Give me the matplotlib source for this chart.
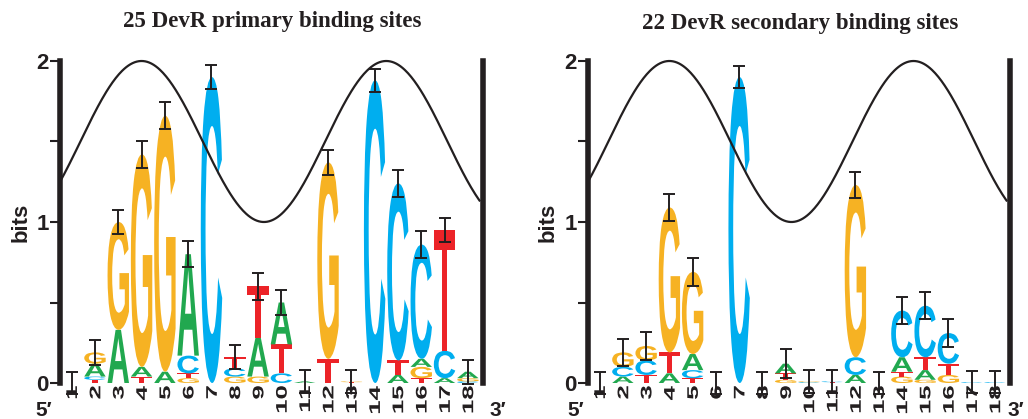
import numpy as np
import matplotlib
matplotlib.use("Agg")
import matplotlib.pyplot as plt
from matplotlib.textpath import TextPath
from matplotlib.patches import PathPatch
from matplotlib.font_manager import FontProperties
from matplotlib.transforms import Affine2D

# ---- data (bits, stacked bottom -> top) ----
positions = list(range(1, 19))

primary_title = "25 DevR primary binding sites"
primary_stacks = [
    [],
    [("T", .02), ("C", .02), ("A", .08), ("G", .07)],
    [("A", .33), ("G", .67)],
    [("T", .04), ("A", .06), ("G", 1.32)],
    [("A", .07), ("G", 1.59)],
    [("G", .03), ("T", .03), ("C", .11), ("A", .63)],
    [("C", 1.90)],
    [("G", .04), ("C", .05), ("T", .07)],
    [("G", .04), ("A", .24), ("T", .32)],
    [("C", .06), ("T", .18), ("A", .26)],
    [("A", .01)],
    [("T", .15), ("G", 1.22)],
    [("T", .005), ("G", .005)],
    [("C", 1.88)],
    [("A", .05), ("T", .09), ("C", 1.10)],
    [("T", .03), ("G", .07), ("A", .05), ("C", .71)],
    [("A", .03), ("C", .17), ("T", .75)],
    [("C", .01), ("G", .02), ("A", .04)],
]
primary_err = [.07, .08, .075, .085, .085, .08, .075, .075, .085, .075,
               .07, .075, .07, .07, .085, .085, .075, .075]

secondary_title = "22 DevR secondary binding sites"
secondary_stacks = [
    [],
    [("A", .04), ("C", .06), ("G", .09)],
    [("T", .05), ("C", .09), ("G", .09)],
    [("A", .06), ("T", .13), ("G", .90)],
    [("T", .03), ("C", .05), ("A", .10), ("G", .51)],
    [],
    [("C", 1.90)],
    [],
    [("G", .02), ("T", .04), ("A", .06)],
    [("C", .005), ("G", .005)],
    [("T", .005), ("C", .005)],
    [("A", .05), ("C", .11), ("G", 1.07)],
    [],
    [("G", .04), ("T", .03), ("A", .09), ("C", .29)],
    [("G", .02), ("A", .06), ("T", .08), ("C", .32)],
    [("G", .05), ("T", .07), ("C", .19)],
    [("C", .005)],
    [("C", .005)],
]
secondary_err = [.07, .085, .085, .085, .085, .07, .07, .07, .09, .07,
                 .07, .08, .07, .085, .085, .085, .07, .07]

# helical phase curve: peaks (bits=2) and troughs (bits=1), period in bp
helix_peak = 4.0
helix_period = 10.5

COLORS = {"A": "#21A84F", "C": "#00AEEF", "G": "#F6B223", "T": "#EC2328"}
INK = "#231F20"
FP = FontProperties(family="Liberation Sans", weight="bold")


def draw_letter(ax, ch, x, y0, h, w=0.92):
    tp = TextPath((0, 0), ch, size=1, prop=FP)
    bb = tp.get_extents()
    tr = (Affine2D().translate(-bb.x0, -bb.y0)
          .scale(w / bb.width, h / bb.height)
          .translate(x - w / 2, y0))
    ax.add_patch(PathPatch(tr.transform_path(tp), fc=COLORS[ch], ec="none", lw=0, zorder=2))


def draw_pos_label(ax, s, x):
    # position numbers, turned 90 degrees and stretched like the logo tool does
    tp = TextPath((0, 0), s, size=1, prop=FP)
    p = Affine2D().scale(0.16, 0.66).rotate_deg(90).transform_path(tp)
    bb = p.get_extents()
    p = Affine2D().translate(x - (bb.x0 + bb.x1) / 2, -0.02 - bb.y1).transform_path(p)
    ax.add_patch(PathPatch(p, fc=INK, ec="none", lw=0, clip_on=False))


def logo(ax, stacks, errs):
    totals = []
    for x, stack in zip(positions, stacks):
        y = 0
        for ch, h in stack:
            draw_letter(ax, ch, x, y, h)
            y += h
        totals.append(y)
    eb = ax.errorbar(positions, totals, yerr=errs, fmt="none", ecolor=INK,
                     elinewidth=1.4, capsize=4.3, capthick=1.4, zorder=3)
    for art in list(eb.lines[1]) + list(eb.lines[2]):
        art.set_clip_on(False)

    xs = np.linspace(0.5, 18.5, 400)
    ax.plot(xs, 1.5 + 0.5 * np.cos(2 * np.pi * (xs - helix_peak) / helix_period),
            color=INK, lw=1.6, zorder=4, clip_on=False)

    for x in positions:
        draw_pos_label(ax, str(x), x)

    ax.set_xlim(0.5, 18.65)
    ax.set_ylim(0, 2)
    ax.set_xticks([])
    ax.set_yticks([0, 1, 2])
    ax.set_yticks([0.5, 1.5], minor=True)
    ax.set_yticklabels(["0", "1", "2"], fontsize=16, fontweight="bold",
                       family="Liberation Sans", color=INK)
    ax.tick_params(axis="y", which="both", length=7, width=1.5, color=INK, pad=1)
    for side in ("top", "bottom"):
        ax.spines[side].set_visible(False)
    for side in ("left", "right"):
        ax.spines[side].set_linewidth(4)
        ax.spines[side].set_color(INK)
    ax.patch.set_visible(False)


fig = plt.figure(figsize=(10.28, 4.19), dpi=100)
ax1 = fig.add_axes([60 / 1028, 36 / 419, 423 / 1028, 322 / 419])
ax2 = fig.add_axes([588 / 1028, 36 / 419, 422 / 1028, 322 / 419])

logo(ax1, primary_stacks, primary_err)
logo(ax2, secondary_stacks, secondary_err)

tfont = dict(family="Liberation Serif", fontweight="bold", fontsize=16.5, color=INK,
             ha="center", va="center")
fig.text(272 / 1028, 1 - 21 / 419, primary_title, **tfont)
fig.text(800 / 1028, 1 - 23 / 419, secondary_title, **tfont)

lfont = dict(family=["Liberation Sans", "DejaVu Sans"], fontweight="bold", color=INK,
             ha="center", va="center")
for xb in (21, 548):
    fig.text(xb / 1028, 1 - 222 / 419, "bits", rotation=90, fontsize=16, **lfont)
for xb in (44, 576):
    fig.text(xb / 1028, 1 - 410 / 419, "5\u2032", fontsize=15, **lfont)
for xb in (498, 1016):
    fig.text(xb / 1028, 1 - 410 / 419, "3\u2032", fontsize=15, **lfont)

fig.savefig("out.png", dpi=100)
